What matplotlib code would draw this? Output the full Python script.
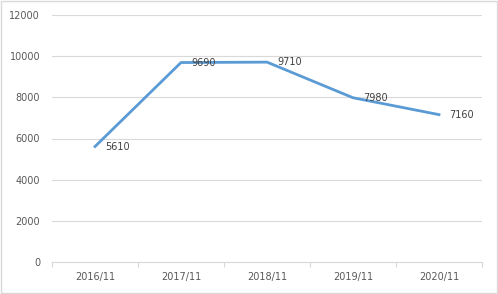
import numpy as np
import matplotlib.pyplot as plt
from matplotlib.patches import Rectangle

# chart data
months = ['2016/11', '2017/11', '2018/11', '2019/11', '2020/11']
values = [5610, 9690, 9710, 7980, 7160]

line_color = '#5B9BD5'
grid_color = '#D9D9D9'
text_color = '#595959'

fig = plt.figure(figsize=(4.98, 2.94), dpi=100)
ax = fig.add_axes([52 / 498, 1 - 262 / 294, 430 / 498, 247 / 294])

# outer border like the Excel chart area
fig.patches.append(Rectangle((0.002, 0.003), 0.995, 0.993, transform=fig.transFigure,
                             fill=False, edgecolor=grid_color, linewidth=1))

x = np.arange(len(months)) + 0.5
ax.plot(x, values, color=line_color, linewidth=2.0, solid_joinstyle='miter')

for xi, v in zip(x, values):
    ax.annotate(str(v), (xi, v), xytext=(7.5, 0), textcoords='offset points',
                ha='left', va='center', fontsize=7, color='#404040')

ax.set_xlim(0, len(months))
ax.set_ylim(0, 12000)
ax.set_yticks(range(0, 12001, 2000))
ax.set_xticks(x)
ax.set_xticklabels(months)
ax.set_xticks(np.arange(len(months) + 1), minor=True)

ax.grid(axis='y', color=grid_color, linewidth=0.8)
ax.set_axisbelow(True)
for side in ['top', 'right', 'left']:
    ax.spines[side].set_visible(False)
ax.spines['bottom'].set_color(grid_color)
ax.spines['bottom'].set_linewidth(0.8)

ax.tick_params(axis='y', length=0, pad=8.5, labelsize=7, labelcolor=text_color)
ax.tick_params(axis='x', which='major', length=0, pad=7, labelsize=7, labelcolor=text_color)
ax.tick_params(axis='x', which='minor', length=3.5, color=grid_color, width=0.8)

fig.savefig('out.png', dpi=100)
